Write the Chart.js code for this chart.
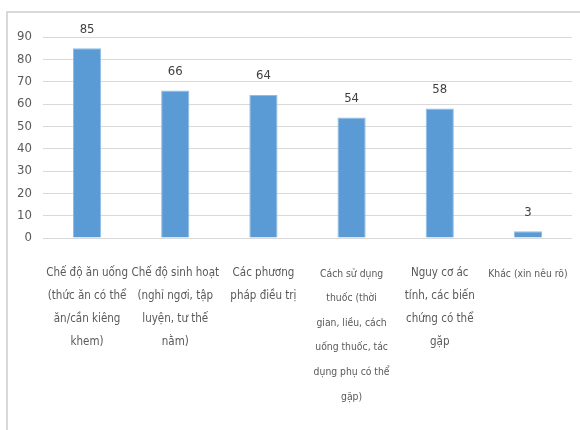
<!DOCTYPE html>
<html>
<head>
<meta charset="utf-8">
<script src="https://cdn.jsdelivr.net/npm/chart.js@4"></script>
<style>
  html, body { margin: 0; padding: 0; background: #fff; }
  #wrap { position: relative; width: 580px; height: 430px; }
  #frame {
    position: absolute; left: 6px; top: 11px; right: -2px; bottom: -2px;
    border-left: 2px solid #d9d9d9; border-top: 2px solid #d9d9d9;
    pointer-events: none;
  }
</style>
</head>
<body>
<div id="wrap">
  <canvas id="chart" width="580" height="430"></canvas>
  <div id="frame"></div>
</div>
<script>
const categories = [
  ['Chế độ ăn uống', '(thức ăn có thể', 'ăn/cần kiêng', 'khem)'],
  ['Chế độ sinh hoạt', '(nghỉ ngơi, tập', 'luyện, tư thế', 'nằm)'],
  ['Các phương', 'pháp điều trị'],
  ['Cách sử dụng', 'thuốc (thời', 'gian, liều, cách', 'uống thuốc, tác', 'dụng phụ có thể', 'gặp)'],
  ['Nguy cơ ác', 'tính, các biến', 'chứng có thể', 'gặp'],
  ['Khác (xin nêu rõ)']
];
const values = [85, 66, 64, 54, 58, 3];
const yMax = 90;
const yStep = 10;

const fontFamily = "'DejaVu Sans Condensed', 'Liberation Sans Narrow', sans-serif";
const smallLabels = [3, 5];

// value labels above each bar
const barLabels = {
  id: 'barLabels',
  afterDatasetsDraw(chart) {
    const ctx = chart.ctx;
    const meta = chart.getDatasetMeta(0);
    ctx.save();
    ctx.font = '13px ' + fontFamily;
    ctx.fillStyle = '#404040';
    ctx.textAlign = 'center';
    ctx.textBaseline = 'middle';
    meta.data.forEach((bar, i) => {
      ctx.fillText(String(values[i]), bar.x, bar.y - 19);
    });
    ctx.restore();
  }
};

new Chart(document.getElementById('chart'), {
  type: 'bar',
  data: {
    labels: categories,
    datasets: [{
      data: values,
      backgroundColor: '#5b9bd5',
      borderColor: '#8fbde6',
      borderWidth: 1,
      categoryPercentage: 0.8,
      barPercentage: 0.4
    }]
  },
  options: {
    responsive: false,
    animation: false,
    layout: { padding: { left: 0, right: 8, top: 37, bottom: 0 } },
    plugins: {
      legend: { display: false },
      tooltip: { enabled: false }
    },
    scales: {
      x: {
        grid: { display: false },
        border: { display: false },
        ticks: {
          color: '#595959',
          padding: 16,
          maxRotation: 0,
          autoSkip: false,
          font: (c) => smallLabels.includes(c.index)
            ? { family: fontFamily, size: 10.3, lineHeight: 2.38 }
            : { family: fontFamily, size: 11.5, lineHeight: 2.0 }
        },
        afterFit: (scale) => {
          scale.height = 192;
          scale.paddingLeft = 0;
          scale.paddingRight = 0;
        }
      },
      y: {
        min: 0,
        max: yMax,
        grid: { color: '#d9d9d9', lineWidth: 1, drawTicks: false },
        border: { display: false },
        ticks: {
          stepSize: yStep,
          color: '#595959',
          padding: 11,
          font: { family: fontFamily, size: 13 }
        },
        afterFit: (scale) => { scale.width = 43; }
      }
    }
  },
  plugins: [barLabels]
});
</script>
</body>
</html>
